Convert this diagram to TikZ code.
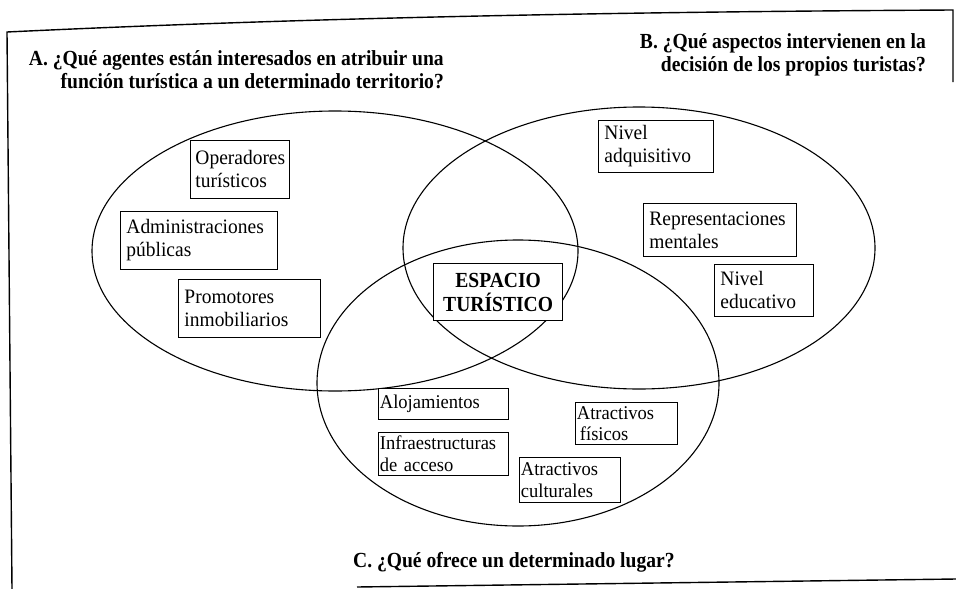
\documentclass[tikz,border=0pt]{standalone}
\usepackage{fontspec}
\setmainfont{Liberation Serif}
\newfontfamily\titlefont[FakeStretch=0.91]{Liberation Serif}
\newfontfamily\boxfont[FakeStretch=0.95]{Liberation Serif}
\begin{document}
\begin{tikzpicture}[x=1pt,y=-1pt,
  frame/.style={line width=1.4pt},
  venn/.style={line width=1.1pt},
  box/.style={draw, fill=white, line width=0.9pt, anchor=north west, inner xsep=6pt, inner ysep=0pt, align=left, font=\boxfont\fontsize{20.5}{23}\selectfont},
  sbox/.style={box, inner xsep=1.5pt, font=\boxfont\fontsize{19.5}{21.5}\selectfont},
  core/.style={draw, fill=white, line width=1.3pt, anchor=north west, inner sep=0pt, align=center, font=\titlefont\bfseries\fontsize{21.5}{24}\selectfont},
  title/.style={inner sep=0pt, align=right, font=\titlefont\bfseries\fontsize{21.5}{23}\selectfont}]
\useasboundingbox (0,0) rectangle (956,589);
% frame
\draw[frame] (12,589) -- (7,32) .. controls (300,18) and (600,12) .. (953,10) -- (953,82);
\draw[frame] (357,587) -- (956,579);
% ellipses
\draw[venn] (335,251) ellipse [x radius=243, y radius=140];
\draw[venn] (639,248) ellipse [x radius=236, y radius=141];
\draw[venn] (518,383) ellipse [x radius=201, y radius=143];
% titles
\node[title, anchor=north east] (qa) at (444,50) {A. ¿Qué agentes están interesados en atribuir una\\función turística a un determinado territorio?};
\node[title, anchor=north east] (qb) at (926,33) {B. ¿Qué aspectos intervienen en la\\decisión de los propios turistas?};
\node[title, anchor=base west] (qc) at (353,567) {C. ¿Qué ofrece un determinado lugar?};
% boxes of A
\node[box, inner xsep=5pt, minimum width=99pt, minimum height=58pt, text width=89pt] (op) at (190,140) {Operadores\\turísticos};
\node[box, minimum width=157pt, minimum height=58pt, text width=145pt] (adm) at (120,211) {Administraciones\\públicas};
\node[box, minimum width=142pt, minimum height=58pt, text width=130pt] (prom) at (178,279) {Promotores\\inmobiliarios};
% boxes of B
\node[box, minimum width=115pt, minimum height=52pt, text width=103pt] (nad) at (598,120) {Nivel\\adquisitivo};
\node[box, minimum width=153pt, minimum height=53pt, text width=141pt] (rep) at (643,203) {Representaciones\\mentales};
\node[box, minimum width=99pt, minimum height=52pt, text width=87pt] (ned) at (714,264) {Nivel\\educativo};
% centre
\node[core, minimum width=129pt, minimum height=57pt] (esp) at (433,263) {ESPACIO\\TURÍSTICO};
% boxes of C
\node[sbox, minimum width=130pt, minimum height=31pt, text width=127pt] (alo) at (378,388) {Alojamientos};
\node[sbox, minimum width=130pt, minimum height=43pt, text width=127pt] (inf) at (378,432) {Infraestructuras\\de acceso};
\node[sbox, minimum width=102pt, minimum height=42pt, text width=99pt] (afi) at (575,402) {Atractivos\\\hspace*{3pt}físicos};
\node[sbox, minimum width=101pt, minimum height=45pt, text width=98pt] (acu) at (519,457) {Atractivos\\culturales};
\end{tikzpicture}
\end{document}
